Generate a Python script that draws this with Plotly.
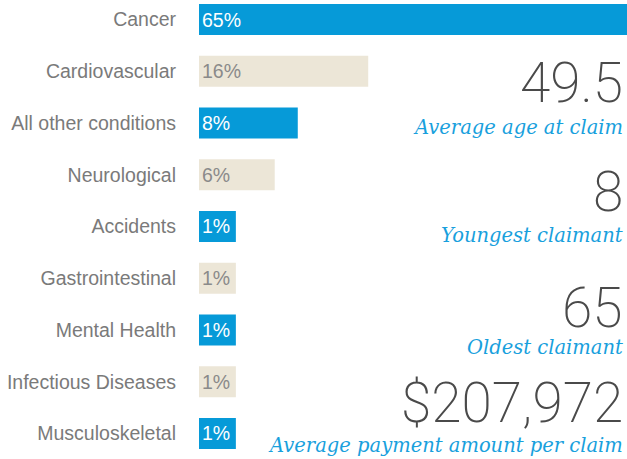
import plotly.graph_objects as go

categories = ["Cancer", "Cardiovascular", "All other conditions", "Neurological",
              "Accidents", "Gastrointestinal", "Mental Health", "Infectious Diseases",
              "Musculoskeletal"]
pct_labels = ["65%", "16%", "8%", "6%", "1%", "1%", "1%", "1%", "1%"]
# bar lengths as drawn in the graphic (in units where Cancer = 65)
bar_lengths = [65, 25.7, 15.0, 11.5, 5.6, 5.6, 5.6, 5.6, 5.6]
bar_colors = ["#069ad8", "#ece6d7", "#069ad8", "#ece6d7", "#069ad8",
              "#ece6d7", "#069ad8", "#ece6d7", "#069ad8"]
text_colors = ["#ffffff", "#8a8a8a", "#ffffff", "#8a8a8a", "#ffffff",
               "#8a8a8a", "#ffffff", "#8a8a8a", "#ffffff"]

stat_values = ["49.5", "8", "65", "$207,972"]
stat_labels = ["Average age at claim", "Youngest claimant", "Oldest claimant",
               "Average payment amount per claim"]

W, H = 627, 459
L = 199

fig = go.Figure(go.Bar(
    y=categories, x=bar_lengths, orientation="h",
    marker=dict(color=bar_colors, line=dict(width=0)),
    text=pct_labels, textposition="inside", insidetextanchor="start",
    textfont=dict(family="Liberation Sans", size=19.5, color=text_colors),
    constraintext="none", cliponaxis=False, hoverinfo="skip",
))

num_y = [83, 192, 308, 403]
lab_y = [127, 235, 347, 445]
anns = []
for v, lab, ny, ly in zip(stat_values, stat_labels, num_y, lab_y):
    anns.append(dict(text=v, xref="paper", yref="paper",
                     x=(625 - L) / (W - L), y=1 - ny / H, xanchor="right", yanchor="middle",
                     showarrow=False,
                     font=dict(family="Roboto", size=55, color="#4a4a4a", weight=200)))
    anns.append(dict(text="<i>" + lab + "</i>", xref="paper", yref="paper",
                     x=(625 - L) / (W - L), y=1 - ly / H, xanchor="right", yanchor="middle",
                     showarrow=False,
                     font=dict(family="DejaVu Serif", size=19.5, color="#18a0dd")))

fig.update_layout(
    width=W, height=H,
    margin=dict(l=L, r=0, t=0, b=0, autoexpand=False),
    paper_bgcolor="white", plot_bgcolor="white",
    bargap=0.4, showlegend=False,
    xaxis=dict(range=[0, 65], visible=False, fixedrange=True),
    yaxis=dict(type="category", range=[8.493, -0.377], showgrid=False, zeroline=False,
               showline=False, ticks="", ticklabelstandoff=22,
               tickfont=dict(family="Liberation Sans", size=19.5, color="#7a7a7a"),
               fixedrange=True),
    annotations=anns,
)

fig.write_html("out.html", config={"displayModeBar": False},
               post_script="document.body.style.margin='0';document.body.style.overflow='hidden';")
